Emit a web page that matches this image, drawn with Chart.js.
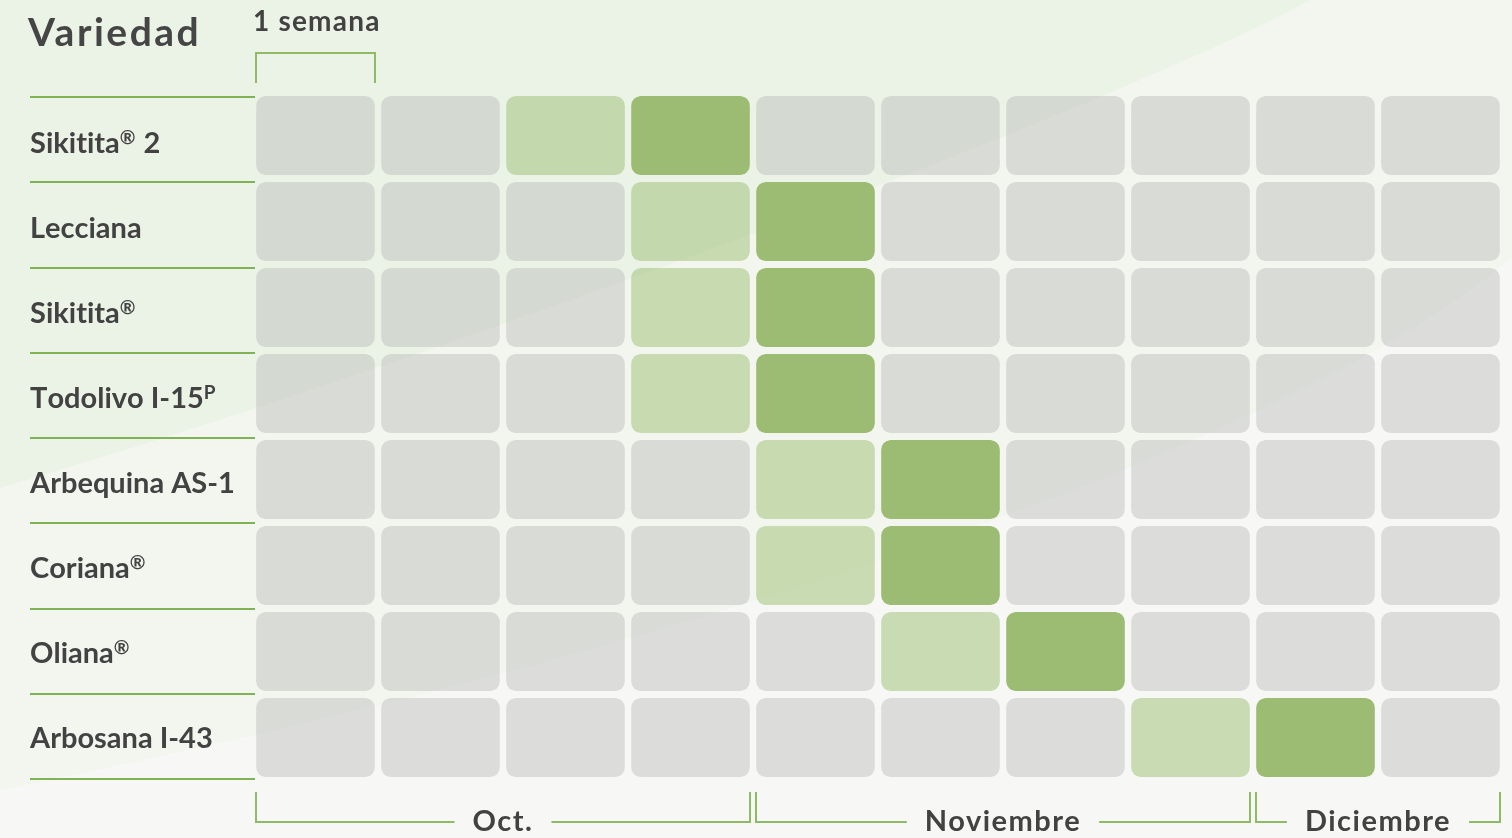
<!DOCTYPE html>
<html>
<head>
<meta charset="utf-8">
<script src="https://cdn.jsdelivr.net/npm/chart.js@4.4.1/dist/chart.umd.min.js"></script>
<style>
  html, body { margin: 0; padding: 0; background: #f7f8f5; }
  #wrap { width: 1512px; height: 838px; position: relative; }
</style>
</head>
<body>
<div id="wrap"><canvas id="harvestChart"></canvas></div>
<script>
// Varieties (rows) and harvest weeks (columns)
const varieties = ['Sikitita® 2', 'Lecciana', 'Sikitita®', 'Todolivo I-15ᴾ', 'Arbequina AS-1', 'Coriana®', 'Oliana®', 'Arbosana I-43'];
const weekCount = 10;
// week index where ripening starts (light) and the optimal week (dark)
const startWeek = [2, 3, 3, 3, 4, 4, 5, 7];
const peakWeek = [3, 4, 4, 4, 5, 5, 6, 8];
// months under the grid and how many weeks each covers
const months = ['Oct.', 'Noviembre', 'Diciembre'];
const monthWeeks = [4, 4, 2];

const GREY = 'rgba(170,170,168,0.35)';
const LIGHT = 'rgba(155,189,114,0.5)';
const DARK = '#9bbc72';
const LINE = '#7fb356';
const TEXT = '#424242';
const FONT = 'Lato, "Open Sans", sans-serif';

const cellColor = (row, week) => {
    if (week === peakWeek[row]) return DARK;
    if (week === startWeek[row]) return LIGHT;
    return GREY;
};

// one dataset per week column, every bar floats over [w, w+1]
const datasets = [];
for (let w = 0; w < weekCount; w++) {
    datasets.push({
        label: 'Semana ' + (w + 1),
        data: varieties.map(() => [w, w + 1]),
        backgroundColor: varieties.map((v, i) => cellColor(i, w)),
        borderColor: 'rgba(0,0,0,0)',
        borderWidth: { left: 3.2, right: 3.2, top: 0, bottom: 0 },
        borderSkipped: false,
        borderRadius: 13,
        grouped: false,
        barPercentage: 0.92,
        categoryPercentage: 1
    });
}

// draw a label, with ® and ᴾ raised as superscripts
const drawLabel = (ctx, text, x, y, size) => {
    let cx = x;
    for (const ch of text) {
        const sup = ch === '®' || ch === 'ᴾ';
        const c = ch === 'ᴾ' ? 'P' : ch;
        ctx.font = 'bold ' + (sup ? Math.round(size * 0.66) : size) + 'px ' + FONT;
        ctx.fillText(c, cx, sup ? y - size * 0.3 : y);
        cx += ctx.measureText(c).width + (sup ? 1 : 0);
    }
};

const backgroundPlugin = {
    id: 'bg',
    beforeDraw(chart) {
        const ctx = chart.ctx;
        const W = chart.width, H = chart.height;
        ctx.save();
        ctx.fillStyle = '#f7f8f5';
        ctx.fillRect(0, 0, W, H);
        // middle band
        ctx.beginPath();
        ctx.moveTo(0, 0);
        ctx.lineTo(W, 0);
        ctx.lineTo(W, 257);
        ctx.bezierCurveTo(1300, 440, 700, 650, 0, 790);
        ctx.closePath();
        ctx.fillStyle = '#f2f6ee';
        ctx.fill();
        // top-left band
        ctx.beginPath();
        ctx.moveTo(0, 0);
        ctx.lineTo(1310, 0);
        ctx.bezierCurveTo(1150, 90, 500, 340, 0, 488);
        ctx.closePath();
        ctx.fillStyle = '#ebf3e7';
        ctx.fill();
        ctx.restore();
    }
};

const annotationsPlugin = {
    id: 'annotations',
    afterDraw(chart) {
        const ctx = chart.ctx;
        const x = chart.scales.x, y = chart.scales.y;
        const area = chart.chartArea;
        const pitch = y.getPixelForValue(1) - y.getPixelForValue(0);
        ctx.save();
        ctx.textBaseline = 'alphabetic';

        // title and week marker
        ctx.letterSpacing = '2.5px';
        ctx.font = 'bold 39px ' + FONT;
        ctx.fillStyle = '#454545';
        ctx.fillText('Variedad', 28, 46);
        ctx.letterSpacing = '1.2px';
        ctx.font = 'bold 28px ' + FONT;
        ctx.fillStyle = TEXT;
        ctx.fillText('1 semana', 253, 31);

        ctx.strokeStyle = '#8fbb66';
        ctx.lineWidth = 2;
        const w0 = x.getPixelForValue(0) + 3, w1 = x.getPixelForValue(1) - 3;
        ctx.beginPath();
        ctx.moveTo(w0, 83);
        ctx.lineTo(w0, 53);
        ctx.lineTo(w1, 53);
        ctx.lineTo(w1, 83);
        ctx.stroke();

        // row separators on the left
        ctx.strokeStyle = LINE;
        ctx.lineWidth = 2;
        for (let k = 0; k <= varieties.length; k++) {
            const ly = Math.round(area.top + 4.5 + k * (pitch - 0.75));
            ctx.beginPath();
            ctx.moveTo(30, ly);
            ctx.lineTo(area.left + 2, ly);
            ctx.stroke();
        }

        // variety labels
        ctx.letterSpacing = '0px';
        ctx.fillStyle = TEXT;
        varieties.forEach((name, i) => {
            const cy = y.getPixelForValue(i) + 17 - i;
            drawLabel(ctx, name, 30, cy, 29);
        });

        // month brackets
        ctx.strokeStyle = '#8fbb66';
        ctx.letterSpacing = '1.5px';
        ctx.font = 'bold 29px ' + FONT;
        ctx.textAlign = 'center';
        let start = 0;
        months.forEach((m, i) => {
            const a = x.getPixelForValue(start) + 3;
            const b = x.getPixelForValue(start + monthWeeks[i]) - 3;
            const mid = (a + b) / 2;
            const tw = ctx.measureText(m).width;
            const pad = 18;
            ctx.beginPath();
            ctx.moveTo(a, 792);
            ctx.lineTo(a, 822);
            ctx.lineTo(mid - tw / 2 - pad, 822);
            ctx.moveTo(mid + tw / 2 + pad, 822);
            ctx.lineTo(b, 822);
            ctx.lineTo(b, 792);
            ctx.stroke();
            ctx.fillText(m, mid, 831);
            start += monthWeeks[i];
        });
        ctx.restore();
    }
};

new Chart(document.getElementById('harvestChart').getContext('2d'), {
    type: 'bar',
    data: {
        labels: varieties,
        datasets: datasets
    },
    options: {
        indexAxis: 'y',
        responsive: true,
        maintainAspectRatio: false,
        animation: false,
        layout: {
            padding: { left: 253, right: 9, top: 92.5, bottom: 57.5 }
        },
        scales: {
            x: { type: 'linear', min: 0, max: weekCount, display: false },
            y: { display: false }
        },
        plugins: {
            legend: { display: false },
            tooltip: { enabled: false }
        }
    },
    plugins: [backgroundPlugin, annotationsPlugin]
});
</script>
</body>
</html>
